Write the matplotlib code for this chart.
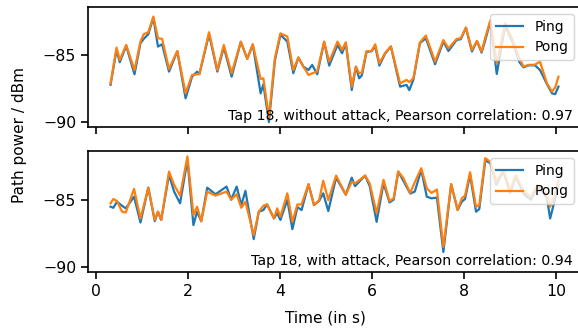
import matplotlib
matplotlib.use("Agg")
import matplotlib.pyplot as plt

# ---------------- data: top panel (without attack) ----------------
t_top = [0.32, 0.45, 0.52, 0.66, 0.84, 0.97, 1.04, 1.14, 1.25, 1.35, 1.44, 1.59,
         1.77, 1.95, 2.09, 2.20, 2.25, 2.46, 2.64, 2.78, 2.95, 3.15, 3.29, 3.41,
         3.58, 3.64, 3.76, 3.89, 4.01, 4.16, 4.29, 4.40, 4.51, 4.62, 4.70, 4.81,
         4.96, 5.07, 5.25, 5.35, 5.43, 5.56, 5.65, 5.72, 5.78, 5.88, 5.99, 6.07,
         6.16, 6.28, 6.41, 6.61, 6.75, 6.81, 6.90, 7.04, 7.17, 7.37, 7.55, 7.66,
         7.84, 7.93, 8.04, 8.17, 8.28, 8.38, 8.45, 8.57, 8.71, 8.89, 9.05, 9.20,
         9.29, 9.40, 9.54, 9.65, 9.80, 9.91, 9.98, 10.05]
ping_top = [-87.20, -84.60, -85.52, -84.30, -86.42, -84.10, -83.78, -83.43, -82.20, -84.35, -84.18, -86.22,
            -84.70, -88.21, -86.60, -86.22, -86.40, -83.43, -86.22, -84.40, -86.60, -84.00, -85.27, -84.20,
            -87.84, -87.16, -89.98, -85.40, -83.47, -83.98, -86.34, -85.17, -85.85, -86.10, -85.72, -86.42,
            -84.00, -85.77, -84.23, -84.85, -84.10, -87.59, -85.85, -86.72, -86.50, -84.75, -84.70, -84.33,
            -85.77, -84.90, -84.35, -87.34, -87.21, -87.60, -86.80, -84.10, -83.73, -85.67, -83.98, -84.68,
            -83.85, -83.80, -82.95, -84.72, -83.95, -84.80, -84.00, -82.50, -86.40, -82.80, -84.00, -85.50,
            -85.90, -85.75, -85.75, -86.10, -87.15, -87.84, -87.90, -87.34]
pong_top = [-87.09, -84.43, -85.35, -84.23, -86.10, -83.98, -83.43, -83.28, -82.11, -83.73, -83.78, -86.02,
            -84.68, -87.84, -86.47, -86.42, -86.40, -83.28, -86.10, -84.23, -86.34, -83.98, -85.27, -84.18,
            -86.77, -86.72, -89.60, -85.22, -83.36, -83.60, -86.10, -85.17, -85.85, -86.47, -86.35, -86.20,
            -83.98, -85.47, -83.98, -84.60, -84.03, -87.34, -85.85, -86.34, -86.30, -84.70, -84.68, -84.18,
            -85.60, -84.85, -84.33, -87.09, -86.84, -87.00, -86.70, -84.05, -83.53, -85.47, -83.86, -84.48,
            -83.78, -83.73, -82.93, -84.60, -83.93, -84.72, -83.80, -82.40, -85.60, -82.60, -83.80, -85.20,
            -85.85, -85.72, -85.70, -85.47, -87.09, -87.71, -87.40, -86.60]

# ---------------- data: bottom panel (with attack) ----------------
t_bot = [0.32, 0.38, 0.46, 0.57, 0.65, 0.83, 0.97, 1.14, 1.28, 1.35, 1.42, 1.59,
         1.70, 1.83, 1.99, 2.12, 2.20, 2.29, 2.42, 2.60, 2.84, 2.94, 3.06, 3.16,
         3.25, 3.43, 3.54, 3.64, 3.72, 3.87, 3.94, 4.01, 4.16, 4.27, 4.38, 4.47,
         4.62, 4.74, 4.85, 4.94, 5.05, 5.22, 5.43, 5.56, 5.63, 5.85, 5.95, 6.10,
         6.25, 6.38, 6.47, 6.57, 6.68, 6.83, 6.93, 7.07, 7.19, 7.29, 7.41, 7.55,
         7.72, 7.86, 7.95, 8.02, 8.13, 8.26, 8.33, 8.46, 8.57, 8.70, 8.85, 9.00,
         9.12, 9.30, 9.45, 9.60, 9.70, 9.80, 9.87, 9.98, 10.05]
ping_bot = [-85.52, -85.60, -85.15, -85.45, -85.64, -84.78, -86.69, -84.11, -86.59, -85.89, -86.50, -83.16,
            -84.40, -85.27, -82.05, -86.88, -85.89, -86.60, -84.11, -84.60, -84.03, -85.00, -84.03, -85.40,
            -84.35, -87.92, -85.89, -85.77, -85.35, -86.39, -86.00, -86.50, -85.02, -87.18, -85.55, -85.77,
            -83.86, -85.40, -85.10, -84.53, -85.84, -83.37, -84.63, -83.37, -84.00, -83.22, -84.00, -86.64,
            -83.78, -85.20, -85.00, -82.92, -83.60, -84.55, -84.40, -82.79, -84.78, -84.90, -84.85, -88.87,
            -83.86, -85.77, -85.15, -84.95, -83.16, -85.89, -85.70, -82.10, -82.30, -83.90, -82.90, -84.50,
            -83.30, -84.60, -85.00, -84.00, -84.40, -84.90, -86.39, -84.90, -83.90]
pong_bot = [-85.27, -84.95, -85.10, -85.89, -85.95, -84.20, -86.39, -84.11, -86.50, -85.89, -86.50, -82.92,
            -83.90, -84.70, -81.80, -86.14, -85.52, -86.60, -84.40, -84.70, -84.40, -85.00, -84.60, -85.60,
            -85.15, -87.63, -85.89, -85.45, -85.35, -86.39, -85.64, -86.26, -84.53, -86.64, -85.35, -85.35,
            -83.86, -85.40, -85.05, -83.60, -85.03, -83.22, -84.63, -83.67, -83.80, -83.22, -83.80, -86.00,
            -83.53, -85.10, -84.90, -82.92, -83.40, -84.50, -83.70, -82.67, -84.16, -84.50, -84.25, -88.50,
            -83.86, -85.77, -84.90, -84.70, -82.97, -85.52, -85.40, -81.93, -82.20, -83.70, -82.80, -84.30,
            -83.20, -84.40, -84.80, -83.90, -84.20, -84.70, -85.52, -84.50, -83.60]

xticks = [0, 2, 4, 6, 8, 10]
yticks = [-90, -85]
texts = ["Tap 18, without attack, Pearson correlation: 0.97",
         "Tap 18, with attack, Pearson correlation: 0.94"]

W, H = 578, 329
fig = plt.figure(figsize=(W / 100, H / 100), dpi=100)

L, R = 88, 581
boxes = [(7, 127), (151, 272)]
axes = []
for (top, bot) in boxes:
    ax = fig.add_axes([L / W, 1 - bot / H, (R - L) / W, (bot - top) / H])
    axes.append(ax)

series = [(t_top, ping_top, pong_top), (t_bot, ping_bot, pong_bot)]
for i, ax in enumerate(axes):
    t, p1, p2 = series[i]
    ax.plot(t, p1, color="#1f77b4", lw=1.6, label="Ping", solid_joinstyle="round")
    ax.plot(t, p2, color="#ff7f0e", lw=1.6, label="Pong", solid_joinstyle="round")
    ax.set_xlim(-0.17, 10.54)
    ax.set_ylim(-90.35, -81.4)
    ax.set_xticks(xticks)
    ax.set_yticks(yticks)
    ax.tick_params(labelsize=11.3, length=5, width=1.2)
    for s in ax.spines.values():
        s.set_linewidth(1.2)
    if i == 0:
        ax.tick_params(labelbottom=False)
    ax.legend(loc="upper right", fontsize=10, handlelength=2.0,
              borderaxespad=0.5, framealpha=0.8)
    ax.text(0.984, 0.03, texts[i], transform=ax.transAxes, ha="right",
            va="bottom", fontsize=10.2)

fig.text(20 / W, 1 - 135 / H, "Path power / dBm", rotation=90, ha="center",
         va="center", fontsize=11)
fig.text(325 / W, 1 - 318 / H, "Time (in s)", ha="center", va="center",
         fontsize=11)

fig.savefig("out.png", dpi=100)
